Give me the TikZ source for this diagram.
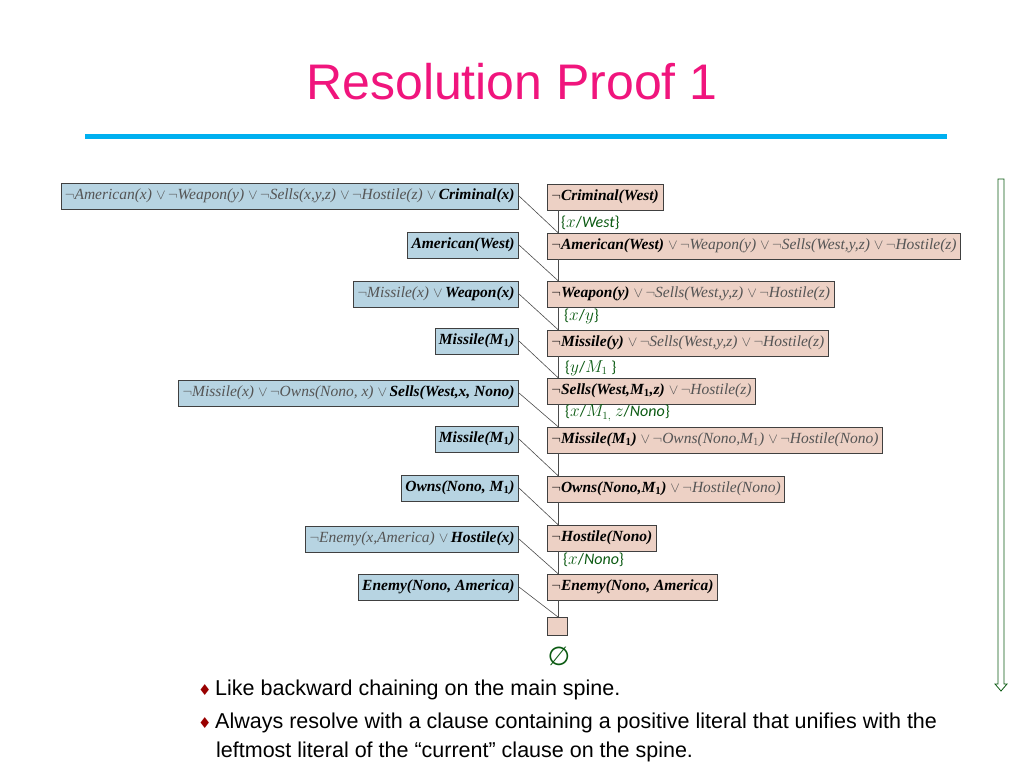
\documentclass[tikz,border=0pt]{standalone}
\usepackage{fontspec}
\setmainfont{Liberation Serif}
\newfontfamily\arialf{Liberation Sans}
\newfontfamily\calf{Carlito}
\newfontfamily\dejaf{DejaVu Sans}
\usetikzlibrary{arrows.meta,calc}
\definecolor{titlepink}{HTML}{F0157D}
\definecolor{rulecol}{HTML}{00B0F0}
\definecolor{bluebox}{HTML}{B7D4E2}
\definecolor{pinkbox}{HTML}{EDD1C5}
\definecolor{subgreen}{HTML}{0B5A12}
\definecolor{negray}{HTML}{555555}
\newcommand{\neglit}[1]{{\color{negray}\itshape$\neg$#1}}
\newcommand{\bplit}[1]{{\bfseries\itshape #1}}
\newcommand{\orsym}{{\color{negray}$\;\vee\,$}}
\newcommand{\bul}{{\color{red!60!black}\dejaf\fontsize{15}{17}\selectfont ♦}}
\begin{document}
\begin{tikzpicture}[x=1pt,y=-1pt,
  lbox/.style={draw=black!75,fill=bluebox,line width=0.8pt,minimum height=26pt,inner xsep=4pt,inner ysep=2pt,anchor=east,font=\fontsize{15.5}{17}\selectfont},
  rbox/.style={draw=black!75,fill=pinkbox,line width=0.8pt,minimum height=26pt,inner xsep=4pt,inner ysep=2pt,anchor=west,font=\fontsize{15.5}{17}\selectfont},
  link/.style={draw=black!70,line width=0.6pt},
  sub/.style={text=subgreen,font=\calf\fontsize{16}{18}\selectfont,anchor=west,inner sep=0pt}]
\useasboundingbox (0,0) rectangle (1024,768);
\node[text=titlepink,font=\arialf\fontsize{50}{54}\selectfont] (title) at (512,82) {Resolution Proof 1};
\draw[rulecol,line width=5pt] (85,136) coordinate (r1) -- (947,136) coordinate (r2);
% right spine boxes
\node[rbox] (R1) at (547,197) {\bplit{$\neg$Criminal(West)}};
\node[rbox] (R2) at (547,246) {\bplit{$\neg$American(West)}\orsym\neglit{Weapon(y)}\orsym\neglit{Sells(West,y,z)}\orsym\neglit{Hostile(z)}};
\node[rbox] (R3) at (547,294) {\bplit{$\neg$Weapon(y)}\orsym\neglit{Sells(West,y,z)}\orsym\neglit{Hostile(z)}};
\node[rbox] (R4) at (547,343) {\bplit{$\neg$Missile(y)}\orsym\neglit{Sells(West,y,z)}\orsym\neglit{Hostile(z)}};
\node[rbox] (R5) at (547,391) {\bplit{$\neg$Sells(West,M$_{\mathbf 1}$,z)}\orsym\neglit{Hostile(z)}};
\node[rbox] (R6) at (547,440) {\bplit{$\neg$Missile(M$_{\mathbf 1}$)}\orsym\neglit{Owns(Nono,M$_1$)}\orsym\neglit{Hostile(Nono)}};
\node[rbox] (R7) at (547,489) {\bplit{$\neg$Owns(Nono,M$_{\mathbf 1}$)}\orsym\neglit{Hostile(Nono)}};
\node[rbox] (R8) at (547,538) {\bplit{$\neg$Hostile(Nono)}};
\node[rbox] (R9) at (547,587) {\bplit{$\neg$Enemy(Nono, America)}};
\node[draw=black!75,fill=pinkbox,line width=0.8pt,minimum width=20pt,minimum height=18pt,anchor=north west,inner sep=0pt] (R10) at (547,617) {};
% left boxes
\node[lbox] (L1) at (519,196) {\neglit{American(x)}\orsym\neglit{Weapon(y)}\orsym\neglit{Sells(x,y,z)}\orsym\neglit{Hostile(z)}\orsym\bplit{Criminal(x)}};
\node[lbox] (L2) at (519,245) {\bplit{American(West)}};
\node[lbox] (L3) at (519,294) {\neglit{Missile(x)}\orsym\bplit{Weapon(x)}};
\node[lbox] (L4) at (519,341) {\bplit{Missile(M$_{\mathbf 1}$)}};
\node[lbox] (L5) at (519,393) {\neglit{Missile(x)}\orsym\neglit{Owns(Nono, x)}\orsym\bplit{Sells(West,x, Nono)}};
\node[lbox] (L6) at (519,439) {\bplit{Missile(M$_{\mathbf 1}$)}};
\node[lbox] (L7) at (519,488) {\bplit{Owns(Nono, M$_{\mathbf 1}$)}};
\node[lbox] (L8) at (519,539) {\neglit{Enemy(x,America)}\orsym\bplit{Hostile(x)}};
\node[lbox] (L9) at (519,587) {\bplit{Enemy(Nono, America)}};
% spine links
\foreach \a/\b in {1/2,2/3,3/4,4/5,5/6,6/7,7/8,8/9,9/10}{
  \draw[link] ($(R\a.south west)+(11,0)$) -- ($(R\b.north west)+(11,0)$);
  \draw[link] (L\a.east) -- ($(R\b.north west)+(11,0)$);
}
% substitutions
\node[sub] (s1) at (561,223) {\{$x$/\textit{West}\}};
\node[sub] (s2) at (564,316) {\{$x$/$y$\}};
\node[sub] (s3) at (565,368) {\{$y$/$M_1$ \}};
\node[sub] (s4) at (565,413) {\{$x$/$M_{1,}$ $z$/\textit{Nono}\}};
\node[sub] (s5) at (563,560) {\{$x$/\textit{Nono}\}};
\node[text=subgreen,font=\dejaf\fontsize{26}{28}\selectfont] (empty) at (559,656) {∅};
% right arrow (hollow)
\coordinate (a1) at (1001,179);
\coordinate (a2) at (1001,691);
\draw[subgreen,line width=0.8pt,fill=white,line join=miter]
  ($(a1)+(-3,0)$) -- ($(a1)+(3,0)$) -- ($(a2)+(3,-7)$) -- ($(a2)+(6,-7)$) -- (a2)
  -- ($(a2)+(-6,-7)$) -- ($(a2)+(-3,-7)$) -- cycle;
% bullets
\node[anchor=west,inner sep=0pt,font=\arialf\fontsize{21.5}{24}\selectfont] (b1) at (198,690) {\bul\,Like backward chaining on the main spine.};
\node[anchor=north west,inner sep=0pt,align=left,font=\arialf\fontsize{21.5}{29}\selectfont] (b2) at (198,713) {\bul\,Always resolve with a clause containing a positive literal that unifies with the\\\hspace*{18pt}leftmost literal of the “current” clause on the spine.};
\end{tikzpicture}
\end{document}
